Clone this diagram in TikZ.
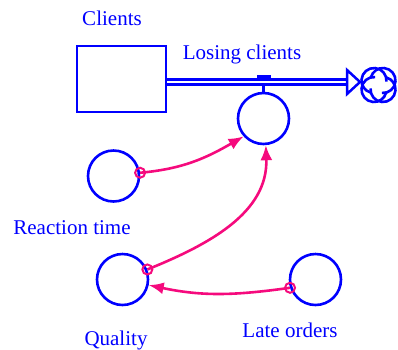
\documentclass[tikz,border=0pt]{standalone}
\usepackage{fontspec}
\setmainfont{Liberation Serif}
\usetikzlibrary{arrows.meta,calc}
\definecolor{sfblue}{RGB}{0,0,255}
\definecolor{linkpink}{RGB}{245,10,125}
\tikzset{
  stockbox/.style={draw=sfblue, line width=2.6pt, fill=white, minimum width=89pt, minimum height=66pt, inner sep=0pt},
  auxvar/.style={circle, draw=sfblue, line width=2.6pt, minimum size=51pt, inner sep=0pt},
  varlabel/.style={text=sfblue, font=\fontsize{21pt}{24pt}\selectfont, anchor=base, inner sep=0pt},
  pipe/.style={draw=sfblue, line width=2.5pt, double=white, double distance=2.6pt},
  valvepart/.style={draw=sfblue, line width=2.5pt},
  link/.style={draw=linkpink, line width=2.6pt, -{Latex[length=15pt,width=12pt]}},
  linkfoot/.style={circle, draw=linkpink, line width=2pt, minimum size=10pt, inner sep=0pt},
}
\begin{document}
\begin{tikzpicture}[x=1pt,y=1pt]
\useasboundingbox (0,0) rectangle (398,-349);

% stock
\node[stockbox] (clients) at (121.5,-79) {};
\node[varlabel] (clientslbl) at (112,-25) {Clients};

% outflow pipe to the sink
\coordinate (pipeend) at (348,-82);
\draw[pipe] (clients.east |- pipeend) -- (pipeend);
\draw[sfblue, line width=2.5pt, fill=white, line join=miter] (347,-70) -- (360,-82) -- (347,-94) -- cycle;

% sink cloud
\coordinate (cloud) at (378.5,-85);
\foreach \k in {0,90,180,270}{
  \draw[sfblue, line width=2.6pt, rotate around={\k:(cloud)}]
    ($(cloud)+(4.5,4.5)+(-95:12.5)$) arc[start angle=-95, end angle=165, radius=12.5];
}

% valve
\node[auxvar] (valve) at (263.5,-118.5) {};
\draw[valvepart] (257,-76.3) -- (271,-76.3);
\draw[valvepart] (263.5,-76.3) -- (263.5,-79);
\draw[valvepart] (263.5,-85.5) -- (valve.north);
\node[varlabel] (flowlbl) at (242,-59) {Losing clients};

% auxiliaries
\node[auxvar] (react) at (113.5,-176) {};
\node[varlabel] (reactlbl) at (72,-234) {Reaction time};
\node[auxvar] (quality) at (122.5,-279.5) {};
\node[varlabel] (qualitylbl) at (116,-345) {Quality};
\node[auxvar] (late) at (315.5,-279.5) {};
\node[varlabel] (latelbl) at (290,-337) {Late orders};

% causal links
\draw[link] (react.7) to[out=5, in=210] (valve.222);
\draw[link] (quality.22) to[out=22, in=-88] (valve.275);
\draw[link] (late.198) to[out=188, in=-12] (quality.348);
\node[linkfoot] (f1) at (react.7) {};
\node[linkfoot] (f2) at (quality.22) {};
\node[linkfoot] (f3) at (late.198) {};
\end{tikzpicture}
\end{document}
